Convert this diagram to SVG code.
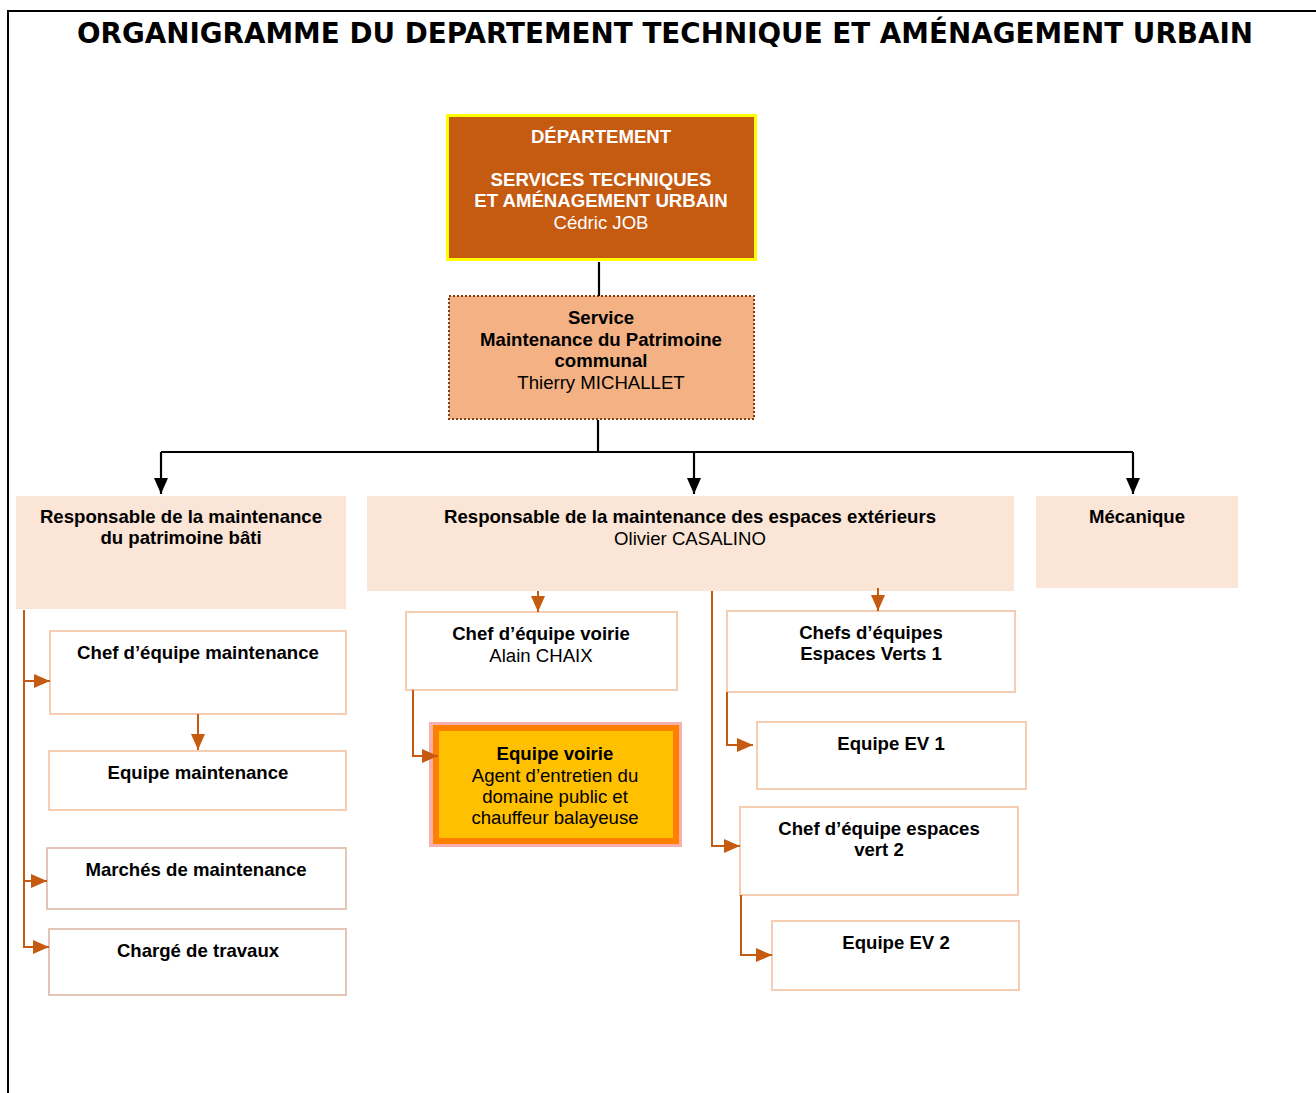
<svg xmlns="http://www.w3.org/2000/svg" width="1316" height="1093" viewBox="0 0 1316 1093">
<defs>
<style>
.t{font-family:"Liberation Sans",Arial,sans-serif;font-size:18.6px;text-anchor:middle;fill:#000}
.b{font-weight:bold}
.w{fill:#fff}
.lt{fill:#FBE5D6;stroke:none}
.wb{fill:#fff;stroke:#F4CDB2;stroke-width:2}
.wb2{fill:#fff;stroke:#E3C6B6;stroke-width:2}
.blk{stroke:#000;stroke-width:2.2;fill:none}
.org{stroke:#C55A11;stroke-width:2;fill:none}
</style>
<marker id="ab" viewBox="0 0 16 16" refX="16" refY="8" markerWidth="16" markerHeight="16" orient="auto" markerUnits="userSpaceOnUse"><path d="M0,1 L16,8 L0,15 z" fill="#000"/></marker>
<marker id="ao" viewBox="0 0 16 16" refX="16" refY="8" markerWidth="16" markerHeight="16" orient="auto" markerUnits="userSpaceOnUse"><path d="M0,1 L16,8 L0,15 z" fill="#C55A11"/></marker>
</defs>
<rect width="1316" height="1093" fill="#fff"/>
<g id="frame">
<path d="M1316,11 H8 V1093" fill="none" stroke="#000" stroke-width="2"/>
<text x="665" y="43" font-family="'Comic Sans MS','DejaVu Sans',sans-serif" font-weight="bold" font-size="28" text-anchor="middle" textLength="1176" lengthAdjust="spacingAndGlyphs">ORGANIGRAMME DU DEPARTEMENT TECHNIQUE ET AMÉNAGEMENT URBAIN</text>
</g>
<g id="departement">
<rect x="447.5" y="115.5" width="308" height="144" fill="#C55A11" stroke="#FFFF00" stroke-width="3"/>
<text class="t b w" x="601" y="143">DÉPARTEMENT</text>
<text class="t b w" x="601" y="186">SERVICES TECHNIQUES</text>
<text class="t b w" x="601" y="207">ET AMÉNAGEMENT URBAIN</text>
<text class="t w" x="601" y="229">Cédric JOB</text>
</g>
<g id="service">
<rect x="449" y="296" width="305" height="123" fill="#F4B183" stroke="#843C0C" stroke-width="2" stroke-dasharray="2,2"/>
<text class="t b" x="601" y="324">Service</text>
<text class="t b" x="601" y="346">Maintenance du Patrimoine</text>
<text class="t b" x="601" y="367">communal</text>
<text class="t" x="601" y="389">Thierry MICHALLET</text>
</g>
<g id="resp-bati">
<rect class="lt" x="16" y="496" width="330" height="113"/>
<text class="t b" x="181" y="523">Responsable de la maintenance</text>
<text class="t b" x="181" y="544">du patrimoine bâti</text>
</g>
<g id="resp-ext">
<rect class="lt" x="367" y="496" width="647" height="95"/>
<text class="t b" x="690" y="523">Responsable de la maintenance des espaces extérieurs</text>
<text class="t" x="690" y="545">Olivier CASALINO</text>
</g>
<g id="mecanique">
<rect class="lt" x="1036" y="496" width="202" height="92"/>
<text class="t b" x="1137" y="523">Mécanique</text>
</g>
<g id="chef-maint">
<rect class="wb" x="50" y="631" width="296" height="83"/>
<text class="t b" x="198" y="659">Chef d’équipe maintenance</text>
</g>
<g id="equipe-maint">
<rect class="wb" x="49" y="751" width="297" height="59"/>
<text class="t b" x="198" y="779">Equipe maintenance</text>
</g>
<g id="marches">
<rect class="wb2" x="47" y="848" width="299" height="61"/>
<text class="t b" x="196" y="876">Marchés de maintenance</text>
</g>
<g id="charge">
<rect class="wb2" x="49" y="929" width="297" height="66"/>
<text class="t b" x="198" y="957">Chargé de travaux</text>
</g>
<g id="chef-voirie">
<rect class="wb" x="406" y="612" width="271" height="78"/>
<text class="t b" x="541" y="640">Chef d’équipe voirie</text>
<text class="t" x="541" y="662">Alain CHAIX</text>
</g>
<g id="equipe-voirie">
<rect x="429" y="722" width="253" height="125" fill="#F8B0AE"/>
<rect x="436" y="728" width="240" height="113" fill="#FFC000" stroke="#FF8000" stroke-width="6"/>
<text class="t b" x="555" y="760">Equipe voirie</text>
<text class="t" x="555" y="782">Agent d’entretien du</text>
<text class="t" x="555" y="803">domaine public et</text>
<text class="t" x="555" y="824">chauffeur balayeuse</text>
</g>
<g id="chefs-ev1">
<rect class="wb" x="727" y="611" width="288" height="81"/>
<text class="t b" x="871" y="639">Chefs d’équipes</text>
<text class="t b" x="871" y="660">Espaces Verts 1</text>
</g>
<g id="equipe-ev1">
<rect class="wb" x="757" y="722" width="269" height="67"/>
<text class="t b" x="891" y="750">Equipe EV 1</text>
</g>
<g id="chef-ev2">
<rect class="wb" x="740" y="807" width="278" height="88"/>
<text class="t b" x="879" y="835">Chef d’équipe espaces</text>
<text class="t b" x="879" y="856">vert 2</text>
</g>
<g id="equipe-ev2">
<rect class="wb" x="772" y="921" width="247" height="69"/>
<text class="t b" x="896" y="949">Equipe EV 2</text>
</g>
<g id="connectors">
<path class="blk" d="M599,262 V296"/>
<path class="blk" d="M598,420 V452"/>
<path class="blk" d="M161,452 H1133"/>
<path class="blk" d="M161,452 V494" marker-end="url(#ab)"/>
<path class="blk" d="M694,452 V494" marker-end="url(#ab)"/>
<path class="blk" d="M1133,452 V494" marker-end="url(#ab)"/>
<path class="org" d="M24,610 V947 H49" marker-end="url(#ao)"/>
<path class="org" d="M24,681 H50" marker-end="url(#ao)"/>
<path class="org" d="M24,881 H47" marker-end="url(#ao)"/>
<path class="org" d="M198,714 V750" marker-end="url(#ao)"/>
<path class="org" d="M538,591 V612" marker-end="url(#ao)"/>
<path class="org" d="M413,690 V756 H438" marker-end="url(#ao)"/>
<path class="org" d="M712,591 V846 H740" marker-end="url(#ao)"/>
<path class="org" d="M878,588 V611" marker-end="url(#ao)"/>
<path class="org" d="M727,692 V745 H753" marker-end="url(#ao)"/>
<path class="org" d="M741,895 V955 H772" marker-end="url(#ao)"/>
</g>
</svg>
